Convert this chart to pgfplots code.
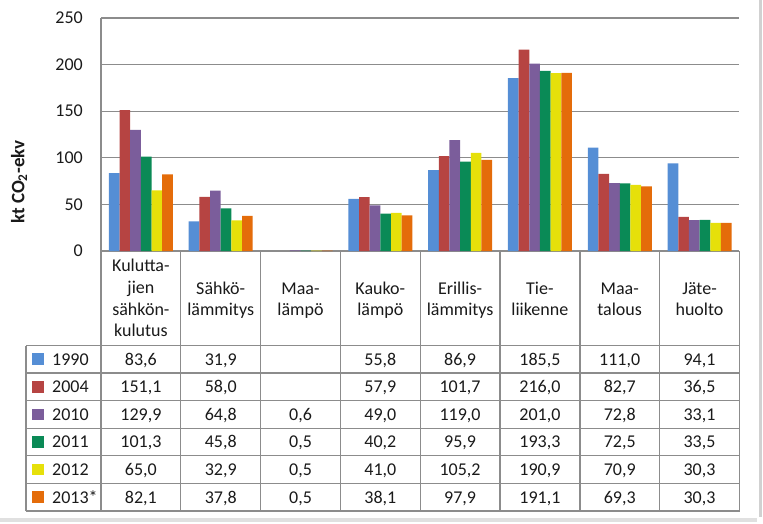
\documentclass[border=0pt]{standalone}
\usepackage{pgfplots}
\pgfplotsset{compat=1.18}
\usepackage{fontspec}
\setmainfont{Carlito}
\definecolor{c1990}{HTML}{558ED5}
\definecolor{c2004}{HTML}{B64442}
\definecolor{c2010}{HTML}{7B5D9B}
\definecolor{c2011}{HTML}{0A8A56}
\definecolor{c2012}{HTML}{E6E00A}
\definecolor{c2013}{HTML}{E46C0A}
\definecolor{gridgray}{HTML}{8C8C8C}
\definecolor{tabgray}{HTML}{8C8C8C}
\definecolor{txt}{HTML}{1A1A1A}
\newcommand{\tf}{\fontsize{18}{21.7}\selectfont}
\newcommand{\trow}[9]{%
  \fill[#2] (32,#1-5.8) rectangle (43.5,#1+5.8);
  \node[anchor=base west] at (52,#1+5.9) {#3};
  \node at (140.9,#1+5.9) {#4};
  \node at (220.7,#1+5.9) {#5};
  \node at (300.5,#1+5.9) {#6};
  \node at (380.3,#1+5.9) {#7};
  \node at (460.1,#1+5.9) {#8};
  \trowb{#1}#9}
\newcommand{\trowb}[4]{%
  \node at (539.9,#1+5.9) {#2};
  \node at (619.7,#1+5.9) {#3};
  \node at (699.5,#1+5.9) {#4};}
\begin{document}
\begin{tikzpicture}
\useasboundingbox (0pt,0pt) rectangle (763pt,-524pt);
\begin{axis}[
  at={(101pt,-251pt)}, anchor=south west,
  scale only axis, width=638.5pt, height=233pt,
  xmin=0, xmax=8, ymin=0, ymax=250,
  ybar=0pt, bar width=10.67pt,
  xtick=\empty,
  ytick={0,50,100,150,200,250},
  ymajorgrids, grid style={draw=gridgray, line width=1.3pt},
  axis x line=bottom, axis y line=left,
  axis line style={draw=gridgray, line width=2pt, -},
  x axis line style={line width=2.5pt},
  major tick length=0pt,
  /pgf/number format/assume math mode=true,
  yticklabel style={font=\tf, text=txt, inner sep=0pt, xshift=-18pt, anchor=east},
  every axis plot/.append style={draw=none},
  clip=false,
]
\addplot[fill=c1990] coordinates {(0.5,83.6) (1.5,31.9) (3.5,55.8) (4.5,86.9) (5.5,185.5) (6.5,111.0) (7.5,94.1)};
\addplot[fill=c2004] coordinates {(0.5,151.1) (1.5,58.0) (3.5,57.9) (4.5,101.7) (5.5,216.0) (6.5,82.7) (7.5,36.5)};
\addplot[fill=c2010] coordinates {(0.5,129.9) (1.5,64.8) (2.5,0.6) (3.5,49.0) (4.5,119.0) (5.5,201.0) (6.5,72.8) (7.5,33.1)};
\addplot[fill=c2011] coordinates {(0.5,101.3) (1.5,45.8) (2.5,0.5) (3.5,40.2) (4.5,95.9) (5.5,193.3) (6.5,72.5) (7.5,33.5)};
\addplot[fill=c2012] coordinates {(0.5,65.0) (1.5,32.9) (2.5,0.5) (3.5,41.0) (4.5,105.2) (5.5,190.9) (6.5,70.9) (7.5,30.3)};
\addplot[fill=c2013] coordinates {(0.5,82.1) (1.5,37.8) (2.5,0.5) (3.5,38.1) (4.5,97.9) (5.5,191.1) (6.5,69.3) (7.5,30.3)};
\end{axis}
\begin{scope}[x=1pt,y=-1pt]
  % outer frame shadow
  \draw[black!18, line width=3pt] (760,0) -- (760,517);
  \draw[black!12, line width=4pt] (0,520) -- (757,520);
  % y label
  \node[rotate=90, font=\fontsize{19}{22}\selectfont\bfseries, text=txt] at (19,182) {kt CO\textsubscript{2}-ekv};
  % table grid
  \foreach \yy in {345.5,373,400.7,428.3,455.7,483.3,511}
    \draw[tabgray, line width=1.3pt] (26,\yy) -- (739.5,\yy);
  \draw[tabgray, line width=1.3pt] (26,345.5) -- (26,511);
  \foreach \k in {0,...,8}
    \draw[tabgray, line width=1.3pt] ({101+79.81*\k},251) -- ({101+79.81*\k},511);
  % headers
  \begin{scope}[every node/.style={font=\tf, text=txt, anchor=base, inner sep=0pt}]
    \node at (140.9,271) {Kulutta-};
    \node at (140.9,293) {jien};
    \node at (140.9,315) {sähkön-};
    \node at (140.9,336.5) {kulutus};
    \node at (220.7,294) {Sähkö-};
    \node at (220.7,315.5) {lämmitys};
    \node at (300.5,294) {Maa-};
    \node at (300.5,315.5) {lämpö};
    \node at (380.3,294) {Kauko-};
    \node at (380.3,315.5) {lämpö};
    \node at (460.1,294) {Erillis-};
    \node at (460.1,315.5) {lämmitys};
    \node at (539.9,294) {Tie-};
    \node at (539.9,315.5) {liikenne};
    \node at (619.7,294) {Maa-};
    \node at (619.7,315.5) {talous};
    \node at (699.5,294) {Jäte-};
    \node at (699.5,315.5) {huolto};
  \end{scope}
  % rows
  \begin{scope}[every node/.style={font=\tf, text=txt, anchor=base, inner sep=0pt}]
    \trow{359.2}{c1990}{1990}{83,6}{31,9}{}{55,8}{86,9}{{185,5}{111,0}{94,1}}
    \trow{386.9}{c2004}{2004}{151,1}{58,0}{}{57,9}{101,7}{{216,0}{82,7}{36,5}}
    \trow{414.5}{c2010}{2010}{129,9}{64,8}{0,6}{49,0}{119,0}{{201,0}{72,8}{33,1}}
    \trow{442.0}{c2011}{2011}{101,3}{45,8}{0,5}{40,2}{95,9}{{193,3}{72,5}{33,5}}
    \trow{469.5}{c2012}{2012}{65,0}{32,9}{0,5}{41,0}{105,2}{{190,9}{70,9}{30,3}}
    \trow{497.2}{c2013}{2013*}{82,1}{37,8}{0,5}{38,1}{97,9}{{191,1}{69,3}{30,3}}
  \end{scope}
\end{scope}
\end{tikzpicture}
\end{document}
